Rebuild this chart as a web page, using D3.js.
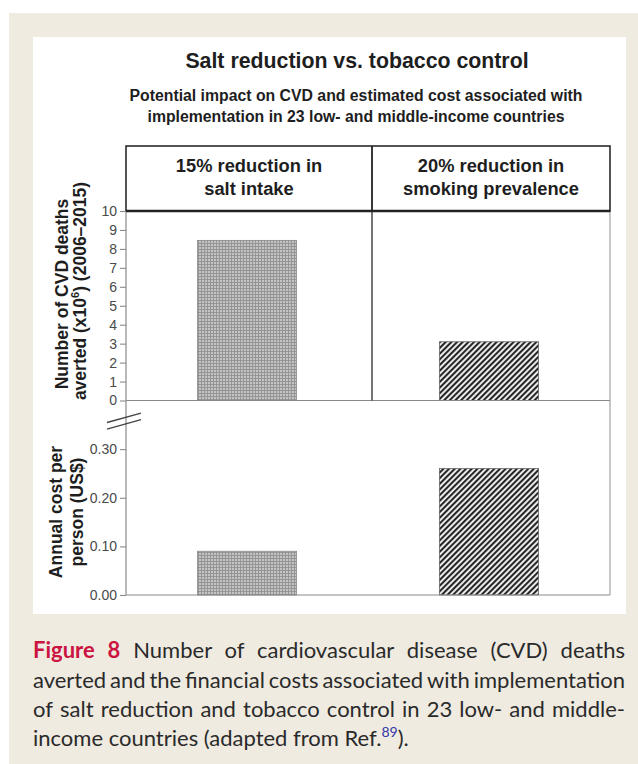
<!DOCTYPE html>
<html><head><meta charset="utf-8">
<script src="https://cdn.jsdelivr.net/npm/d3@7"></script>
<style>body{margin:0;background:#fff}svg{display:block}</style>
</head><body>
<svg id="c" width="638" height="764"></svg>
<script>
// ---------------- data ----------------
const categories = ["salt", "tobacco"];
const categoryLabels = [["15% reduction in", "salt intake"], ["20% reduction in", "smoking prevalence"]];
const deathsAverted = [8.45, 3.1];       // x10^6 CVD deaths averted (2006–2015)
const annualCost = [0.09, 0.26];         // US$ per person per year
const deathTicks = [0, 1, 2, 3, 4, 5, 6, 7, 8, 9, 10];
const costTicks = [0, 0.1, 0.2, 0.3];
const costTickLabels = ["0.00", "0.10", "0.20", "0.30"];
const titleText = "Salt reduction vs. tobacco control";
const subtitleLines = ["Potential impact on CVD and estimated cost associated with",
                       "implementation in 23 low- and middle-income countries"];
const captionLines = [
  [["Figure", 1], ["8", 1], "Number", "of", "cardiovascular", "disease", "(CVD)", "deaths"],
  ["averted", "and", "the", "financial", "costs", "associated", "with", "implementation"],
  ["of", "salt", "reduction", "and", "tobacco", "control", "in", "23", "low-", "and", "middle-"]
];
const captionLast = ["income countries (adapted from Ref.", "89", ")."];

// ---------------- layout ----------------
const svg = d3.select("#c");
const W = 638, H = 764;
const L = 126, R = 610, HT = 146, HB = 211, BOT = 595, DIV = 372;
const chartFont = "'Liberation Sans', Arial, Helvetica, sans-serif";

// page background
svg.append("rect").attr("x", 9).attr("y", 13).attr("width", W - 9).attr("height", H - 13).attr("fill", "#efebe1");
svg.append("rect").attr("x", 33).attr("y", 37).attr("width", 593).attr("height", 577).attr("fill", "#ffffff");

// patterns
const defs = svg.append("defs");
const pg = defs.append("pattern").attr("id", "grid").attr("patternUnits", "userSpaceOnUse")
  .attr("width", 3).attr("height", 3);
pg.append("rect").attr("width", 3).attr("height", 3).attr("fill", "#c4c4c4");
pg.append("path").attr("d", "M0 0.5H3M0.5 0V3").attr("stroke", "#959595").attr("stroke-width", 1);
const ps = defs.append("pattern").attr("id", "stripes").attr("patternUnits", "userSpaceOnUse")
  .attr("width", 4).attr("height", 4).attr("patternTransform", "rotate(45)");
ps.append("rect").attr("width", 4).attr("height", 4).attr("fill", "#f4f4f4");
ps.append("rect").attr("width", 2.1).attr("height", 4).attr("fill", "#262626");
const fills = ["url(#grid)", "url(#stripes)"];

// scales
const x = d3.scaleBand().domain(categories).range([L, R]);
const barW = x.bandwidth() * 0.41;
const yTop = d3.scaleLinear().domain([0, 10]).range([400.5, HB]);
const yBot = d3.scaleLinear().domain([0, 0.4]).range([BOT, 400.5]);

// title
svg.append("text").attr("x", 357).attr("y", 68).attr("text-anchor", "middle")
  .attr("font-family", chartFont).attr("font-weight", "bold").attr("font-size", 21.3).attr("fill", "#1e1e1e")
  .text(titleText);
svg.append("g").selectAll("text").data(subtitleLines).join("text")
  .attr("x", 356).attr("y", (d, i) => 101 + i * 21).attr("text-anchor", "middle")
  .attr("font-family", chartFont).attr("font-weight", "bold").attr("font-size", 15.8).attr("fill", "#1e1e1e")
  .text(d => d);

// bars
const gb = svg.append("g");
gb.selectAll("rect.d").data(deathsAverted).join("rect").attr("class", "d")
  .attr("x", (d, i) => x(categories[i]) + (x.bandwidth() - barW) / 2)
  .attr("width", barW)
  .attr("y", d => yTop(d)).attr("height", d => yTop(0) - yTop(d))
  .attr("fill", (d, i) => fills[i]).attr("stroke", (d, i) => i ? "#666" : "#8a8a8a").attr("stroke-width", 0.8);
gb.selectAll("rect.c").data(annualCost).join("rect").attr("class", "c")
  .attr("x", (d, i) => x(categories[i]) + (x.bandwidth() - barW) / 2)
  .attr("width", barW)
  .attr("y", d => yBot(d)).attr("height", d => yBot(0) - yBot(d))
  .attr("fill", (d, i) => fills[i]).attr("stroke", (d, i) => i ? "#666" : "#8a8a8a").attr("stroke-width", 0.8);

// frame lines
const fr = svg.append("g").attr("fill", "none");
fr.append("line").attr("x1", L).attr("x2", R).attr("y1", yTop(0)).attr("y2", yTop(0)).attr("stroke", "#8a8a8a").attr("stroke-width", 1.2);
fr.append("line").attr("x1", L).attr("x2", R).attr("y1", BOT).attr("y2", BOT).attr("stroke", "#8a8a8a").attr("stroke-width", 1.2);
fr.append("line").attr("x1", L).attr("x2", L).attr("y1", HB).attr("y2", BOT).attr("stroke", "#8a8a8a").attr("stroke-width", 1.2);
fr.append("line").attr("x1", R).attr("x2", R).attr("y1", HB).attr("y2", BOT).attr("stroke", "#9a9a9a").attr("stroke-width", 1.1);
fr.append("line").attr("x1", DIV).attr("x2", DIV).attr("y1", HB).attr("y2", yTop(0)).attr("stroke", "#3a3a3a").attr("stroke-width", 1.4);
// header box
fr.append("rect").attr("x", L).attr("y", HT).attr("width", R - L).attr("height", HB - HT)
  .attr("stroke", "#2a2a2a").attr("stroke-width", 1.6);
fr.append("line").attr("x1", L).attr("x2", R).attr("y1", HB).attr("y2", HB).attr("stroke", "#222").attr("stroke-width", 2.4);
fr.append("line").attr("x1", DIV).attr("x2", DIV).attr("y1", HT).attr("y2", HB).attr("stroke", "#222").attr("stroke-width", 1.8);

// header labels
const hdrCx = [(L + DIV) / 2, (DIV + R) / 2];
svg.append("g").selectAll("text").data(categoryLabels).join("text")
  .attr("text-anchor", "middle").attr("font-family", chartFont).attr("font-weight", "bold")
  .attr("font-size", 18.3).attr("fill", "#1e1e1e")
  .each(function (lines, i) {
    d3.select(this).selectAll("tspan").data(lines).join("tspan")
      .attr("x", hdrCx[i]).attr("y", (d, j) => 172 + j * 23).text(d => d);
  });

// axes
function styleAxis(g) {
  g.select(".domain").remove();
  g.selectAll(".tick line").attr("stroke", "#8a8a8a").attr("stroke-width", 1.1);
  g.selectAll(".tick text").attr("fill", "#4a4a4a").attr("font-size", 14).attr("font-family", chartFont);
}
svg.append("g").attr("transform", `translate(${L},0)`)
  .call(d3.axisLeft(yTop).tickValues(deathTicks).tickSize(6).tickPadding(3).tickFormat(d3.format("d")))
  .call(styleAxis);
svg.append("g").attr("transform", `translate(${L},0)`)
  .call(d3.axisLeft(yBot).tickValues(costTicks).tickSize(6).tickPadding(3).tickFormat((d, i) => costTickLabels[i]))
  .call(styleAxis);

// axis break marks
const brk = svg.append("g").attr("stroke", "#444").attr("stroke-width", 1.3);
[0, 6.6].forEach(o => {
  brk.append("line").attr("x1", L - 19).attr("y1", yTop(0) + 22 + o).attr("x2", L + 15).attr("y2", yTop(0) + 12.6 + o);
});

// y labels
const yl1 = svg.append("g").attr("font-family", chartFont).attr("font-weight", "bold").attr("font-size", 17.5).attr("fill", "#1e1e1e");
yl1.append("text").attr("text-anchor", "middle").attr("transform", "translate(68,294) rotate(-90)").text("Number of CVD deaths");
const t2 = yl1.append("text").attr("text-anchor", "middle").attr("transform", "translate(86,291) rotate(-90)");
t2.append("tspan").text("averted (x10");
t2.append("tspan").attr("font-size", 11).attr("dy", -7).text("6");
t2.append("tspan").attr("dy", 7).text(") (2006–2015)");
yl1.append("text").attr("text-anchor", "middle").attr("transform", "translate(62,512) rotate(-90)").text("Annual cost per");
yl1.append("text").attr("text-anchor", "middle").attr("transform", "translate(83,512) rotate(-90)").text("person (US$)");

// caption
const capFont = "Lato, 'Open Sans', sans-serif";
const capSize = 22;
const capX0 = 33, capX1 = 625;
const capY = [658, 688, 717, 746];
const cap = svg.append("g").attr("font-family", capFont).attr("font-size", capSize).attr("fill", "#2a2a2a");
captionLines.forEach((words, li) => {
  const t = cap.append("text").attr("y", capY[li]);
  const spans = words.map(w => {
    const bold = Array.isArray(w);
    const s = t.append("tspan").text(bold ? w[0] : w);
    if (bold) s.attr("font-weight", "bold").attr("fill", "#cc1441");
    return s;
  });
  const widths = spans.map(s => s.node().getComputedTextLength());
  const total = d3.sum(widths);
  const gap = (capX1 - capX0 - total) / (spans.length - 1);
  let cx = capX0;
  spans.forEach((s, k) => { s.attr("x", cx); cx += widths[k] + gap; });
});
const tl = cap.append("text").attr("x", capX0).attr("y", capY[3]);
tl.append("tspan").text(captionLast[0]);
tl.append("tspan").attr("font-size", 14).attr("dy", -9).attr("fill", "#3535a8").text(captionLast[1]);
tl.append("tspan").attr("dy", 9).text(captionLast[2]);
</script>
</body></html>
